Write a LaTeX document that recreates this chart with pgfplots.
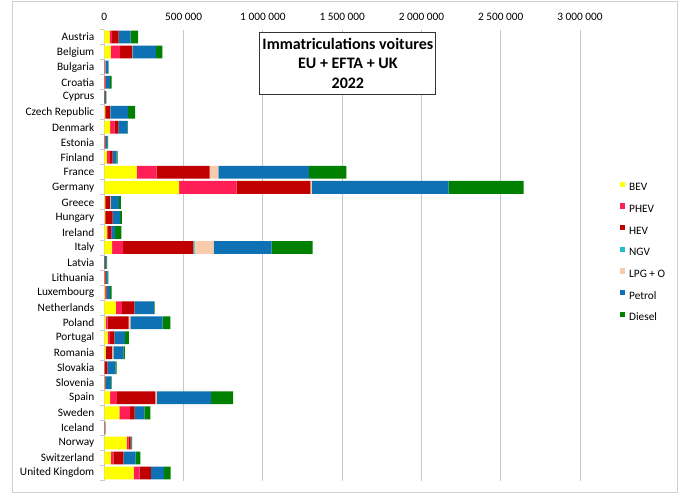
\documentclass[border=0pt]{standalone}
\usepackage{pgfplots}
\pgfplotsset{compat=1.18}
\usepackage{pgfplotstable}
\usepackage{fontspec}
\setmainfont{Carlito}
\definecolor{cBEV}{HTML}{FFFF00}
\definecolor{cPHEV}{HTML}{FF1E55}
\definecolor{cHEV}{HTML}{C00000}
\definecolor{cNGV}{HTML}{20BEC8}
\definecolor{cLPG}{HTML}{F8CBAD}
\definecolor{cPetrol}{HTML}{0E71B3}
\definecolor{cDiesel}{HTML}{008000}
\definecolor{gridc}{HTML}{C8C8C8}
\definecolor{framec}{HTML}{D0D0D0}

\pgfplotstableread{
idx BEV PHEV HEV NGV LPG Petrol Diesel
0 34000 14000 42000 300 1000 74000 48000
1 40000 59000 76000 1000 1000 148000 42000
2 1000 500 3000 0 1500 20000 2000
3 1000 1000 7000 0 1000 25000 11000
4 300 300 3000 0 0 6000 3000
5 3000 4000 30000 1000 1000 111000 44000
6 36000 27000 25000 0 0 58000 3000
7 1000 500 5000 0 0 13000 5000
8 17000 18000 18000 1000 0 24000 6000
9 204000 126000 334000 0 55000 571000 237000
10 472000 363000 464000 1000 9000 862000 473000
11 3000 3000 30000 1000 5000 50000 13000
12 4000 2000 46000 0 500 47000 12000
13 15000 6000 23000 0 0 25000 38000
14 49000 69000 443000 8000 120000 366000 258000
15 1000 0 3000 0 0 9000 5000
16 1000 1000 6000 0 0 12000 5000
17 4000 5000 5000 0 0 22000 10000
18 73000 38000 78000 0 1000 122000 5000
19 9000 12000 133000 0 10000 204000 48000
20 21000 15000 27000 0 1000 66000 25000
21 8000 2000 40000 0 8000 63000 8000
22 1000 1000 18000 0 0 50000 7000
23 1500 500 4000 0 0 35000 5000
24 36000 44000 242000 0 10000 342000 139000
25 95000 67000 29000 1000 0 61000 38000
26 1000 1000 3000 0 0 1000 1000
27 141000 13000 12000 0 0 5000 5000
28 40000 17000 63000 0 1000 77000 29000
29 185000 38000 71000 0 0 84000 40000
}\data

\begin{document}
\begin{tikzpicture}
\path[use as bounding box] (0,0) rectangle (512.25pt,375pt);
\draw[framec, line width=0.75pt] (9pt,5.25pt) rectangle (507.75pt,373.5pt);
\begin{axis}[
  at={(78.225pt,14.6pt)}, anchor=south west,
  scale only axis, width=356.8pt, height=338.25pt,
  xbar stacked, bar width=0.85,
  xmin=0, xmax=3000000, ymin=-0.5, ymax=29.5, y dir=reverse,
  axis line style={draw=none},
  xtick={0,500000,1000000,1500000,2000000,2500000,3000000},
  xticklabels={0,500 000,1 000 000,1 500 000,2 000 000,2 500 000,3 000 000},
  xticklabel pos=right,
  scaled x ticks=false,
  xmajorgrids, grid style={gridc, line width=0.75pt},
  major tick length=0pt,
  xtick pos=right, ytick pos=left,
  ytick={0,...,29},
  yticklabels={Austria,Belgium,Bulgaria,Croatia,Cyprus,Czech Republic,Denmark,Estonia,Finland,France,Germany,Greece,Hungary,Ireland,Italy,Latvia,Lithuania,Luxembourg,Netherlands,Poland,Portugal,Romania,Slovakia,Slovenia,Spain,Sweden,Iceland,Norway,Switzerland,United Kingdom},
  ticklabel style={font=\fontsize{8.5}{10}\selectfont, inner sep=0pt},
  yticklabel style={xshift=-7.3pt},
  xticklabel style={yshift=6.5pt},
  extra y ticks={-0.5,0.5,1.5,2.5,3.5,4.5,5.5,6.5,7.5,8.5,9.5,10.5,11.5,12.5,13.5,14.5,15.5,16.5,17.5,18.5,19.5,20.5,21.5,22.5,23.5,24.5,25.5,26.5,27.5,28.5,29.5},
  extra y tick style={grid=none, major tick length=3pt, tick align=outside, tick style={gridc, line width=0.75pt}, yticklabel={}},
  legend style={at={(1.0755,0.669)}, anchor=north west, draw=none, fill=none,
    font=\fontsize{8.5}{10}\selectfont, row sep=8pt,
    nodes={inner sep=0pt, text height=6pt, text depth=1.5pt},
    /tikz/every odd column/.append style={column sep=2.8pt}},
  legend cell align=left,
  legend image code/.code={\fill[#1] (0pt,0.6pt) rectangle (3.9pt,4.5pt);},
]
\addplot[fill=cBEV, draw=none] table[x=BEV, y=idx] {\data};
\addplot[fill=cPHEV, draw=none] table[x=PHEV, y=idx] {\data};
\addplot[fill=cHEV, draw=none] table[x=HEV, y=idx] {\data};
\addplot[fill=cNGV, draw=none] table[x=NGV, y=idx] {\data};
\addplot[fill=cLPG, draw=none] table[x=LPG, y=idx] {\data};
\addplot[fill=cPetrol, draw=none] table[x=Petrol, y=idx] {\data};
\addplot[fill=cDiesel, draw=none] table[x=Diesel, y=idx] {\data};
\legend{BEV,PHEV,HEV,NGV,LPG + O,Petrol,Diesel}
\end{axis}
\node[draw=black!80, line width=0.75pt, fill=white, minimum width=131.8pt, minimum height=46.5pt, align=center, inner sep=2pt,
  font=\bfseries\fontsize{12}{14.9}\selectfont] at (260.9pt,327.5pt)
  {Immatriculations voitures\\EU + EFTA + UK\\2022};
\end{tikzpicture}
\end{document}
